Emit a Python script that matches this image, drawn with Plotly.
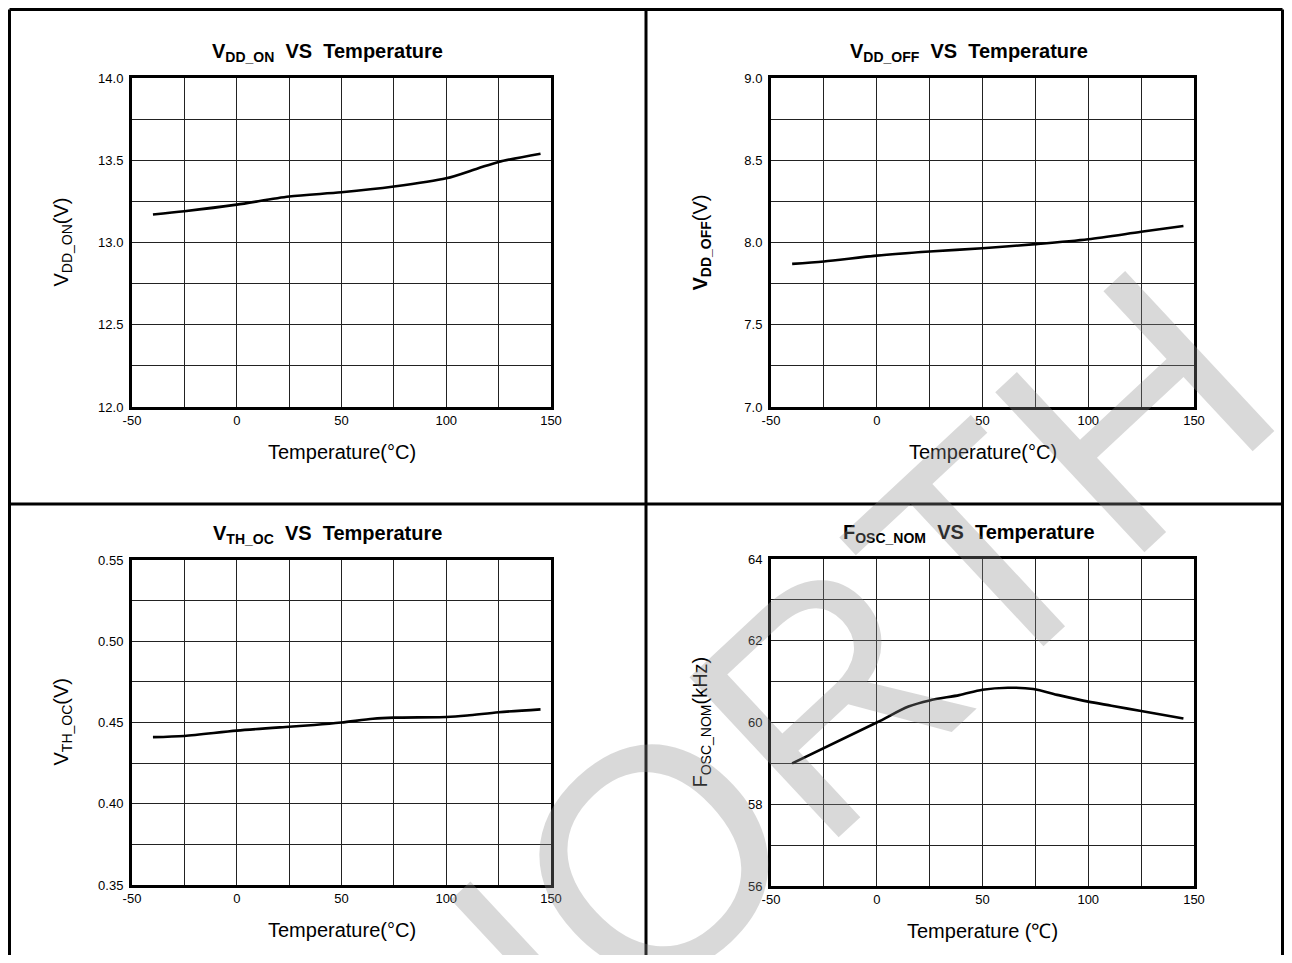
import plotly.graph_objects as go

# page is shown with an 8px body margin; figure sized to fit the window without scrolling
OFF = 8
W, H = 1292 - 2 * OFF, 963 - 2 * OFF

# ---- data ----
temp_on = [-40, -25, 0, 25, 50, 75, 100, 115, 125, 145]
vdd_on = [13.17, 13.19, 13.23, 13.28, 13.305, 13.34, 13.39, 13.45, 13.49, 13.54]

temp_off = [-40, -25, 0, 25, 50, 75, 100, 125, 145]
vdd_off = [7.87, 7.885, 7.92, 7.945, 7.965, 7.99, 8.02, 8.065, 8.10]

temp_oc = [-40, -25, 0, 25, 37, 50, 65, 75, 100, 110, 125, 145]
vth_oc = [0.441, 0.4417, 0.445, 0.4474, 0.4485, 0.450, 0.4523, 0.453, 0.4534, 0.4543, 0.4563, 0.4581]

temp_osc = [-40, 0, 15, 25, 39, 50, 62, 74, 86, 100, 111, 125, 145]
fosc = [59.0, 60.0, 60.39, 60.54, 60.67, 60.8, 60.85, 60.82, 60.67, 60.51, 60.41, 60.28, 60.10]

x_tickvals = [-50, 0, 50, 100, 150]
x_ticktext = ["-50", "0", "50", "100", "150"]

# panel pixel boxes in page coords: (left, right, top, bottom)
boxes = [
    (132, 551, 78, 407),
    (771, 1194, 78, 407),
    (132, 551, 560, 885),
    (771, 1194, 559, 886),
]
yranges = [(12.0, 14.0, 0.5, 0.25, ".1f"),
           (7.0, 9.0, 0.5, 0.25, ".1f"),
           (0.35, 0.55, 0.05, 0.025, ".2f"),
           (56, 64, 2, 1, "d")]

series = [(temp_on, vdd_on), (temp_off, vdd_off), (temp_oc, vth_oc), (temp_osc, fosc)]

titles = ["V<sub>DD_ON</sub>  VS\u00a0 Temperature",
          "V<sub>DD_OFF</sub>  VS\u00a0 Temperature",
          "V<sub>TH_OC</sub>  VS\u00a0 Temperature",
          "F<sub>OSC_NOM</sub>  VS\u00a0 Temperature"]
ytitles = ["V<sub>DD_ON</sub>(V)",
           "<b>V<sub>DD_OFF</sub></b>(V)",
           "V<sub>TH_OC</sub>(V)",
           "F<sub>OSC_NOM</sub>(kHz)"]
xtitles = ["Temperature(°C)", "Temperature(°C)", "Temperature(°C)", "Temperature (\u2103)"]

FONT = "Liberation Sans, Arial, sans-serif"


def px(x):
    return (x - OFF) / W


def py(y):
    return 1 - (y - OFF) / H


fig = go.Figure()
layout = dict(width=W, height=H, margin=dict(l=0, r=0, t=0, b=0, pad=0, autoexpand=False),
              autosize=False,
              paper_bgcolor="white", plot_bgcolor="rgba(0,0,0,0)",
              showlegend=False, font=dict(family=FONT, color="black"))

annotations = []
shapes = []

for i, ((l, r, t, b), (y0, y1, dy, dmy, fmt), (xs, ys)) in enumerate(zip(boxes, yranges, series)):
    n = i + 1
    xa = "xaxis" if n == 1 else f"xaxis{n}"
    ya = "yaxis" if n == 1 else f"yaxis{n}"
    xr = "x" if n == 1 else f"x{n}"
    yr = "y" if n == 1 else f"y{n}"
    layout[xa] = dict(domain=[px(l), px(r)], range=[-50, 150], anchor=yr, automargin=False,
                      tickmode="array", tickvals=x_tickvals, ticktext=x_ticktext, ticks="",
                      showgrid=True, gridcolor="#222", gridwidth=1.3, zeroline=False,
                      showline=True, linecolor="black", linewidth=3, mirror=True,
                      tickfont=dict(size=13, family=FONT), ticklabelstandoff=-1,
                      minor=dict(dtick=25, tick0=-50, showgrid=True, gridcolor="#222", gridwidth=1.3),
                      fixedrange=True)
    layout[ya] = dict(domain=[py(b), py(t)], range=[y0, y1], anchor=xr, automargin=False,
                      dtick=dy, tick0=y0, tickformat=fmt, ticks="", showgrid=True,
                      gridcolor="#222", gridwidth=1.3, zeroline=False,
                      showline=True, linecolor="black", linewidth=3, mirror=True,
                      tickfont=dict(size=13, family=FONT), ticklabelstandoff=3,
                      minor=dict(dtick=dmy, tick0=y0, showgrid=True, gridcolor="#222", gridwidth=1.3),
                      fixedrange=True)
    fig.add_trace(go.Scatter(x=xs, y=ys, mode="lines", xaxis=xr, yaxis=yr,
                             line=dict(color="black", width=2.6, shape="spline", smoothing=0.8),
                             hoverinfo="skip"))
    cx = (l + r) / 2
    annotations.append(dict(text="<b>" + titles[i] + "</b>", x=px(cx - 14), y=py(t - 26),
                            xref="paper", yref="paper", showarrow=False,
                            font=dict(size=20, family=FONT), xanchor="center", yanchor="middle"))
    annotations.append(dict(text=xtitles[i], x=px(cx), y=py(b + 45),
                            xref="paper", yref="paper", showarrow=False,
                            font=dict(size=20, family=FONT), xanchor="center", yanchor="middle"))
    annotations.append(dict(text=ytitles[i], x=px(l - 70), y=py((t + b) / 2),
                            xref="paper", yref="paper", showarrow=False, textangle=-90,
                            font=dict(size=20, family=FONT), xanchor="center", yanchor="middle"))

# watermark
annotations.append(dict(text="NORTH", x=px(806), y=py(716), xref="paper", yref="paper",
                        showarrow=False, textangle=-43,
                        font=dict(size=318, family=FONT, color="rgba(140,140,140,0.33)"),
                        xanchor="center", yanchor="middle"))

# frame lines (page coords), kept inside the figure area
right_x = OFF + W - 1.5
bottom_y = OFF + H
frame = [(9.5, 9.5, right_x, 9.5), (9.5, 9.5, 9.5, bottom_y), (right_x, 9.5, right_x, bottom_y),
         (646, 9.5, 646, bottom_y), (9.5, 504, right_x, 504)]
for x0, yy0, x1, yy1 in frame:
    shapes.append(dict(type="line", xref="paper", yref="paper",
                       x0=px(x0), x1=px(x1), y0=py(yy0), y1=py(yy1),
                       line=dict(color="black", width=3)))

layout["annotations"] = annotations
layout["shapes"] = shapes
fig.update_layout(**layout)
fig.write_html("out.html")
